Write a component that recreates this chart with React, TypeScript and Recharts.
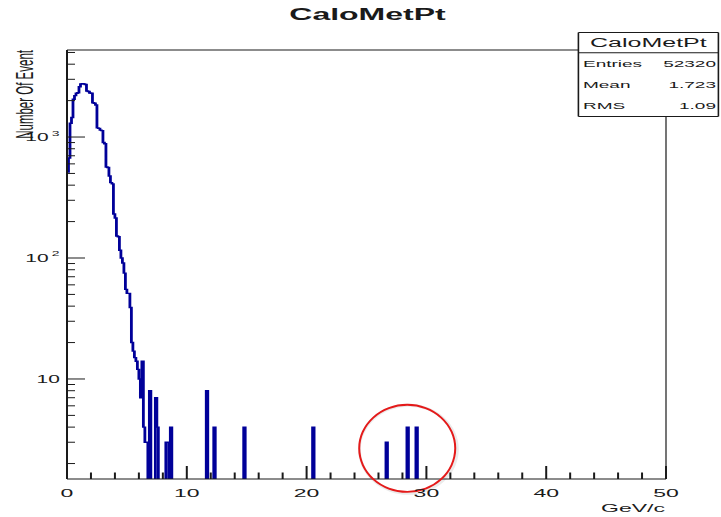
import React from 'react';
import { LineChart, Line, XAxis, YAxis, ReferenceLine, ReferenceDot } from 'recharts';

// histogram binning: 400 bins of 0.125 GeV over 0..50
const binWidth = 0.125;
const binCount = 400;

// counts of the first 70 bins (0 .. 8.75 GeV)
const coreCounts = [
  514, 670, 1300, 1450, 2050, 2200, 2300, 2320, 2600, 2740,
  2760, 2740, 2720, 2400, 2380, 2310, 2300, 1920, 1900, 1840,
  1190, 1180, 1140, 1130, 900, 880, 565, 560, 476, 420,
  410, 231, 214, 152, 150, 116, 100, 91, 75, 55,
  51, 51, 39, 20, 17, 15, 14, 12, 10, 7,
  14, 4, 3, 3, 0, 8, 0, 0, 0, 7,
  4, 0, 0, 0, 0, 0, 3, 3, 0, 4,
];

// lone bins further out (low edge in GeV, count)
const isolatedEdges = [11.625, 12.25, 14.75, 20.5, 26.625, 28.375, 29.125];
const isolatedCounts = [8, 4, 4, 4, 3, 4, 4];

const xTicks = [0, 2, 4, 6, 8, 10, 12, 14, 16, 18, 20, 22, 24, 26, 28, 30, 32, 34, 36, 38, 40, 42, 44, 46, 48, 50];
const xLabels = [0, 10, 20, 30, 40, 50];
const yTicks = [2, 3, 4, 5, 6, 7, 8, 9, 10, 20, 30, 40, 50, 60, 70, 80, 90, 100, 200, 300, 400, 500, 600, 700, 800, 900, 1000, 2000, 3000, 4000, 5000];
const yLabels = [10, 100, 1000];
const yRange = [1.49, 5240];

const statLabels = ['Entries', 'Mean', 'RMS'];
const statValues = ['52320', '1.723', '1.09'];

// red marker drawn around the far bins
const highlight = { x: 28.4, y: 2.67 };

// empty bins fall below the log axis floor, like ROOT draws them
const EMPTY = 0.5;

const counts: number[] = Array.from({ length: binCount }, (_, i) => coreCounts[i] ?? 0);
isolatedEdges.forEach((edge, k) => {
  counts[Math.round(edge / binWidth)] = isolatedCounts[k];
});
const table = counts.map((c, i) => ({ x: i * binWidth, y: c > 0 ? c : EMPTY }));
table.push({ x: binCount * binWidth, y: EMPTY });

// the picture is stretched 2x horizontally, so everything is drawn at half width and scaled
const W = 360.5;
const H = 517;
const FONT = '"Liberation Sans", Arial, Helvetica, sans-serif';
const INK = '#1a1a1a';

const XTick = (props: any) => {
  const { x, y, payload } = props;
  const major = xLabels.includes(payload.value);
  return (
    <g>
      <line x1={x} y1={y} x2={x} y2={y - (major ? 13 : 6.5)} stroke={INK} strokeWidth={1} />
      {major && (
        <text x={x} y={y + 18} textAnchor="middle" fontSize={11.5} fill={INK} fontFamily={FONT}>
          {payload.value}
        </text>
      )}
    </g>
  );
};

const YTick = (props: any) => {
  const { x, y, payload } = props;
  const v = payload.value;
  const major = yLabels.includes(v);
  const exp = Math.round(Math.log10(v));
  return (
    <g>
      <line x1={x} y1={y} x2={x + (major ? 9 : 4)} y2={y} stroke={INK} strokeWidth={1} />
      {major && exp === 1 && (
        <text x={x - 3.5} y={y + 3.8} textAnchor="end" fontSize={10.5} fill={INK} fontFamily={FONT}>10</text>
      )}
      {major && exp > 1 && (
        <g>
          <text x={x - 9.2} y={y + 3.8} textAnchor="end" fontSize={10.5} fill={INK} fontFamily={FONT}>10</text>
          <text x={x - 7.6} y={y - 1.5} fontSize={7} fill={INK} fontFamily={FONT}>{exp}</text>
        </g>
      )}
    </g>
  );
};

const Ring = (props: any) => {
  const { cx, cy } = props;
  // outer/inner ellipses so the stroke stays even after the horizontal stretch
  const ring = (rx: number, ry: number, t: number) =>
    `M ${cx - rx} ${cy} a ${rx} ${ry} 0 1 0 ${2 * rx} 0 a ${rx} ${ry} 0 1 0 ${-2 * rx} 0 Z ` +
    `M ${cx - rx + t} ${cy} a ${rx - t} ${ry - 2 * t} 0 1 0 ${2 * (rx - t)} 0 a ${rx - t} ${ry - 2 * t} 0 1 0 ${-2 * (rx - t)} 0 Z`;
  return (
    <g>
      <path d={ring(25.2, 45.5, 1.4)} fill="#000" fillOpacity={0.08} fillRule="evenodd" transform="translate(0.6,1)" />
      <path d={ring(24.5, 44.5, 1)} fill="#e41a1a" fillRule="evenodd" />
    </g>
  );
};

export default function App(): JSX.Element {
  const rowY = [66.7, 87.8, 109.5];
  const box = { x1: 289.2, x2: 359.2, y1: 32.5, y2: 116.5, sep: 52.7 };
  return (
    <div style={{ position: 'absolute', left: 0, top: 0, width: 721, height: 517, overflow: 'hidden', background: '#fff' }}>
      <div
        style={{
          position: 'absolute',
          left: 0,
          top: 0,
          width: W,
          height: H,
          transform: 'scaleX(2)',
          transformOrigin: '0 0',
          fontFamily: FONT,
        }}
      >
        <LineChart width={W} height={H} data={table} margin={{ top: 50, right: W - 333, bottom: 0, left: 0 }}>
          <XAxis
            dataKey="x"
            type="number"
            domain={[0, 50]}
            allowDataOverflow
            ticks={xTicks}
            interval={0}
            tickSize={0}
            tickMargin={0}
            tickLine={false}
            height={38}
            axisLine={{ stroke: INK, strokeWidth: 1 }}
            tick={(p: any) => <XTick {...p} />}
          />
          <YAxis
            type="number"
            scale="log"
            domain={yRange}
            allowDataOverflow
            ticks={yTicks}
            interval={0}
            tickSize={0}
            tickMargin={0}
            tickLine={false}
            width={33.5}
            axisLine={{ stroke: INK, strokeWidth: 1 }}
            tick={(p: any) => <YTick {...p} />}
          />
          <ReferenceLine y={yRange[1]} stroke={INK} strokeWidth={1} />
          <ReferenceLine x={50} stroke={INK} strokeWidth={0.6} />
          <Line
            dataKey="y"
            type="stepAfter"
            stroke="#000099"
            strokeWidth={1.4}
            dot={false}
            activeDot={false}
            isAnimationActive={false}
          />
          <ReferenceDot x={highlight.x} y={highlight.y} shape={(p: any) => <Ring {...p} />} />
        </LineChart>
        <svg width={W} height={H} style={{ position: 'absolute', left: 0, top: 0 }}>
          <text x={183.75} y={20.5} textAnchor="middle" fontSize={16} fontWeight="bold" fill={INK} fontFamily={FONT}>
            CaloMetPt
          </text>
          <text
            transform="translate(16.5,50) rotate(-90)"
            textAnchor="end"
            fontSize={11.5}
            fill={INK}
            fontFamily={FONT}
          >
            Number Of Event
          </text>
          <text x={332.5} y={512} textAnchor="end" fontSize={11.5} fill={INK} fontFamily={FONT}>
            GeV/c
          </text>
          <rect x={box.x1} y={box.y1} width={box.x2 - box.x1} height={box.y2 - box.y1} fill="#fff" />
          <line x1={box.x1} y1={box.y1} x2={box.x2} y2={box.y1} stroke={INK} strokeWidth={1} />
          <line x1={box.x1} y1={box.y2} x2={box.x2} y2={box.y2} stroke={INK} strokeWidth={1} />
          <line x1={box.x1} y1={box.sep} x2={box.x2} y2={box.sep} stroke={INK} strokeWidth={1} />
          <line x1={box.x1} y1={box.y1} x2={box.x1} y2={box.y2} stroke={INK} strokeWidth={0.8} />
          <line x1={box.x2} y1={box.y1} x2={box.x2} y2={box.y2} stroke={INK} strokeWidth={0.8} />
          <text x={(box.x1 + box.x2) / 2} y={47} textAnchor="middle" fontSize={12.5} fill={INK} fontFamily={FONT}>
            CaloMetPt
          </text>
          {statLabels.map((label, i) => (
            <g key={label}>
              <text x={291.5} y={rowY[i]} fontSize={9.5} fill={INK} fontFamily={FONT}>
                {label}
              </text>
              <text x={358} y={rowY[i]} textAnchor="end" fontSize={9.5} fill={INK} fontFamily={FONT}>
                {statValues[i]}
              </text>
            </g>
          ))}
        </svg>
      </div>
    </div>
  );
}
